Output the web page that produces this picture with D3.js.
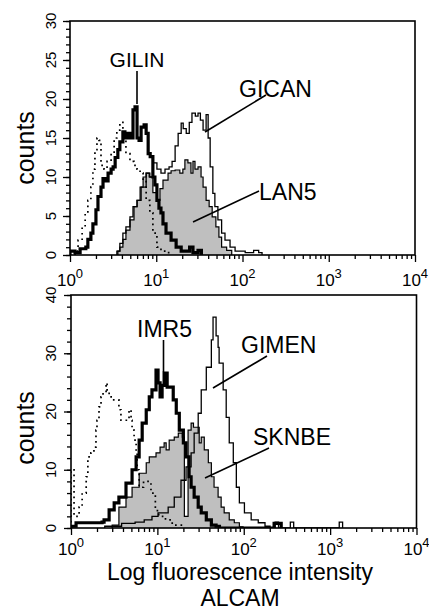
<!DOCTYPE html>
<html><head><meta charset="utf-8">
<script src="https://cdn.jsdelivr.net/npm/d3@7"></script>
<style>
body{margin:0;background:#fff}
svg{display:block}
text{font-family:"Liberation Sans",Arial,Helvetica,sans-serif;fill:#000}
</style>
</head><body>
<svg id="c" width="429" height="612"></svg>
<script>
// ---- Data: flow cytometry histograms (channel 0-1023 = 4 log decades, counts) ----
// Top panel
const topControlCh = [15,24,36,45,53,62,68,74,80,86,92,101,110,122,131,139,148,157,166,178,190,199,208,217,226,237,246,258,270,290,300];
const topControlCt = [0.5,1.9,3.6,5.4,7,8.7,11,13.5,15,14.7,11.5,11,12,13,15,16,17,15,13,12,11.5,11,10.5,9.6,7,5.4,2.8,1,0.5,0.3,0];
const gilinCh = [0,15,30,47,53,62,68,77,83,92,98,107,113,122,128,134,142,148,157,163,172,181,187,193,199,205,211,220,226,232,238,246,252,258,264,270,276,285,300,315,330,345,355,365,380,390];
const gilinCt = [0.5,0.3,0.8,1,2,2.8,4,5.8,7.5,8.7,9.8,9.5,10.5,11,11.3,12.5,13.5,14.5,15.8,15,15.6,15,18.6,19,15,14.7,16.4,16.7,15.6,13,12.6,10,9,7,6,5.4,4,2.8,1.9,1,0.5,0.5,1,0.3,0.6,0];
const gicanCh = [142,148,157,166,178,187,199,211,226,237,246,258,270,282,294,303,312,321,330,336,345,354,362,372,380,387,395,404,410,416,424,430,439,450,460,475,490,520,545,560,570];
const gicanCt = [0.5,1.5,2.8,3.6,4.9,6.2,7,8.7,10.5,10,11.8,11,10.5,11,11.3,12,14,15.6,16.9,16.2,15.6,17,18.2,17.8,18.2,17.3,16,18,15,11.3,7.9,6.2,4.5,2.8,1.9,1,0.5,0.3,0.6,0.3,0];
const lan5Ch = [139,148,157,166,178,190,199,208,217,226,235,246,258,267,276,291,300,312,326,335,341,350,359,365,371,380,389,395,404,413,422,433,442,450,465,480];
const lan5Ct = [0.5,1,2,3.2,4.5,6.2,7,8.7,10,10.5,10,8,7,8.5,9.6,10.5,10.8,10.9,10.5,11,12.2,11.8,10.5,12,11,11.3,10,8.7,7,6.2,4.9,3.6,2.3,1,0.6,0];
// Bottom panel
const botControlCh = [0,9,24,33,45,50,59,68,74,77,83,89,95,104,107,113,122,134,142,148,163,172,178,181,187,193,196,202,215,225,237,250,260,280,300,330];
const botControlCt = [10,2,3.6,6,8.8,12.2,12.9,13.9,16.8,18.5,20.8,22.5,23.2,24.9,23.7,22.5,22,22,20.3,18.5,18.5,20.3,18.5,16.8,15.1,12.9,10,7,8,8,6,3,2,1.4,0.5,0];
const imr5Ch = [0,15,60,92,98,113,128,142,163,181,193,202,211,223,232,240,252,258,264,270,276,285,303,312,321,333,341,350,356,365,377,386,401,416,430,440,602,623];
const imr5Ct = [0.3,0.9,0.9,1,1.4,3.1,4.3,5.3,7.7,10,12.2,15.1,18,20.3,22.5,23.7,27.1,24.9,22.5,24.5,26.6,24.2,22,19.7,16.8,14.6,12.2,8.8,7,5.3,3.6,2.6,1.4,0.5,0.3,0,0.8,0];
const gimenCh = [100,150,190,217,240,258,288,306,326,341,356,365,377,386,401,416,421,430,436,439,451,460,469,481,490,499,514,534,555,575,590,605,615,650,660,795,805];
const gimenCt = [0.3,0.8,1,1.4,2,2.6,3.6,5.3,8.2,10.5,12.9,16.3,19.7,23.7,27.6,32.3,36.2,33,31,28.3,23.7,19,14.6,11.2,7,4.3,2.6,1.4,0.9,0.3,0,1,0,1,0,1,0];
const sknbeCh = [122,142,163,181,202,223,232,252,264,276,282,291,306,318,330,336,347,356,363,380,386,395,407,416,424,436,445,454,469,484,499,510];
const sknbeCt = [0.5,3.6,5.3,7,9.4,11.2,12.2,12.9,13.9,14.6,13.4,15.1,15.6,16.3,15.6,2,16.8,18,17.3,14.6,15.6,13.4,11.2,8.8,7,5.3,3.6,2.6,1.4,0.9,0.2,0];

const decades = [0,1,2,3,4];
const topYTicks = [0,5,10,15,20,25,30];
const botYTicks = [0,10,20,30,40];
const xTitle = "Log fluorescence intensity";
const xSubTitle = "ALCAM";
const yTitle = "counts";

// ---- Drawing ----
const svg = d3.select('#c');
const CH_PER_DECADE = 256;
const toI = ch => Math.pow(10, ch / CH_PER_DECADE);

function panel(cfg, id) {
  const x = d3.scaleLog().domain([1, 1e4]).range(cfg.xr);
  const y = d3.scaleLinear().domain([0, cfg.ymax]).range(cfg.yr);
  const g = svg.append('g');
  g.append('clipPath').attr('id', 'clip' + id).append('rect')
    .attr('x', cfg.xr[0]).attr('y', cfg.yr[1]).attr('width', cfg.xr[1] - cfg.xr[0]).attr('height', cfg.yr[0] - cfg.yr[1]);
  const pts = (ch, ct) => [[toI(ch[0]), 0]].concat(ch.map((c, i) => [toI(c), ct[i]]));
  const line = d3.line().x(d => x(d[0])).y(d => y(d[1])).curve(d3.curveStepAfter);
  const area = d3.area().x(d => x(d[0])).y0(y(0)).y1(d => y(d[1])).curve(d3.curveStepAfter);
  const plot = g.append('g').attr('clip-path', `url(#clip${id})`);

  const grayData = pts(cfg.gray[0], cfg.gray[1]);
  plot.append('path').datum(grayData).attr('d', area).attr('fill', '#bfbfbf');
  plot.append('path').datum(grayData).attr('d', line).attr('fill', 'none').attr('stroke', '#000').attr('stroke-width', 1.2);
  plot.append('path').datum(pts(cfg.thin[0], cfg.thin[1])).attr('d', line).attr('fill', 'none').attr('stroke', '#000').attr('stroke-width', 1.3);
  plot.append('path').datum(pts(cfg.thick[0], cfg.thick[1])).attr('d', line).attr('fill', 'none').attr('stroke', '#000').attr('stroke-width', 3.2).attr('stroke-linejoin', 'miter');
  plot.append('path').datum(pts(cfg.ctrl[0], cfg.ctrl[1])).attr('d', line).attr('fill', 'none').attr('stroke', '#000').attr('stroke-width', 1.7).attr('stroke-dasharray', '1.7,3.8');

  // frame
  g.append('rect').attr('x', cfg.xr[0]).attr('y', cfg.yr[1]).attr('width', cfg.xr[1] - cfg.xr[0]).attr('height', cfg.yr[0] - cfg.yr[1])
    .attr('fill', 'none').attr('stroke', '#000').attr('stroke-width', 1.6);

  // x axis ticks
  const minor = [];
  for (let k = 0; k < 4; k++) for (let m = 2; m <= 9; m++) minor.push(m * Math.pow(10, k));
  const major = decades.map(k => Math.pow(10, k));
  const xa1 = g.append('g').attr('transform', `translate(0,${cfg.yr[0]})`).call(d3.axisBottom(x).tickValues(minor).tickSize(4).tickFormat(''));
  const xa2 = g.append('g').attr('transform', `translate(0,${cfg.yr[0]})`).call(d3.axisBottom(x).tickValues(major).tickSize(7).tickFormat(''));
  [xa1, xa2].forEach(a => { a.select('.domain').remove(); a.selectAll('line').attr('stroke', '#000').attr('stroke-width', 1.3); });

  // y axis ticks
  const yMinor = d3.range(0, cfg.ymax + 0.001, cfg.yMinorStep);
  const ya1 = g.append('g').attr('transform', `translate(${cfg.xr[0]},0)`).call(d3.axisLeft(y).tickValues(yMinor).tickSize(4).tickFormat(''));
  const ya2 = g.append('g').attr('transform', `translate(${cfg.xr[0]},0)`).call(d3.axisLeft(y).tickValues(cfg.yTicks).tickSize(7).tickFormat(''));
  [ya1, ya2].forEach(a => { a.select('.domain').remove(); a.selectAll('line').attr('stroke', '#000').attr('stroke-width', 1.3); });

  // x labels
  decades.forEach(k => {
    const t = g.append('text').attr('x', x(Math.pow(10, k))).attr('y', cfg.labelY).attr('text-anchor', 'middle').attr('font-size', 17);
    t.append('tspan').text('10');
    t.append('tspan').attr('dy', -8).attr('font-size', 13).text(k);
  });
  // y labels
  cfg.yTicks.forEach(v => {
    g.append('text').attr('transform', `translate(56,${y(v)}) rotate(-90)`).attr('text-anchor', 'middle').attr('font-size', 15).text(v);
  });
  // y title
  g.append('text').attr('transform', `translate(33.5,${cfg.titleY}) rotate(-90)`).attr('text-anchor', 'middle').attr('font-size', 25).text(yTitle);

  // annotations
  cfg.notes.forEach(n => {
    g.append('text').attr('x', n.tx).attr('y', n.ty).attr('font-size', n.fs).attr('text-anchor', n.anchor || 'start').text(n.label);
    g.append('line').attr('x1', n.l[0]).attr('y1', n.l[1]).attr('x2', n.l[2]).attr('y2', n.l[3]).attr('stroke', '#000').attr('stroke-width', 1.6);
  });
}

panel({
  xr: [70, 415], yr: [255, 21], ymax: 30, yTicks: topYTicks, yMinorStep: 1, labelY: 286, titleY: 148,
  gray: [lan5Ch, lan5Ct], thin: [gicanCh, gicanCt], thick: [gilinCh, gilinCt], ctrl: [topControlCh, topControlCt],
  notes: [
    {label: 'GILIN', tx: 137, ty: 67, fs: 21, anchor: 'middle', l: [137, 71, 137, 104]},
    {label: 'GICAN', tx: 239, ty: 96.5, fs: 23, l: [266, 95, 205, 132]},
    {label: 'LAN5', tx: 259, ty: 200, fs: 23, l: [259, 191, 193, 222]}
  ]
}, 'a');

panel({
  xr: [71, 416.5], yr: [528, 295], ymax: 40, yTicks: botYTicks, yMinorStep: 2, labelY: 555, titleY: 428,
  gray: [sknbeCh, sknbeCt], thin: [gimenCh, gimenCt], thick: [imr5Ch, imr5Ct], ctrl: [botControlCh, botControlCt],
  notes: [
    {label: 'IMR5', tx: 137, ty: 336.5, fs: 23, l: [163.5, 340, 163.5, 372]},
    {label: 'GIMEN', tx: 241, ty: 353, fs: 23, l: [267, 356, 213, 388]},
    {label: 'SKNBE', tx: 253, ty: 445, fs: 23, l: [269, 448, 205, 478]}
  ]
}, 'b');

svg.append('text').attr('x', 240).attr('y', 580).attr('text-anchor', 'middle').attr('font-size', 23).text(xTitle);
svg.append('text').attr('x', 240).attr('y', 606).attr('text-anchor', 'middle').attr('font-size', 23).text(xSubTitle);
</script>
</body></html>
